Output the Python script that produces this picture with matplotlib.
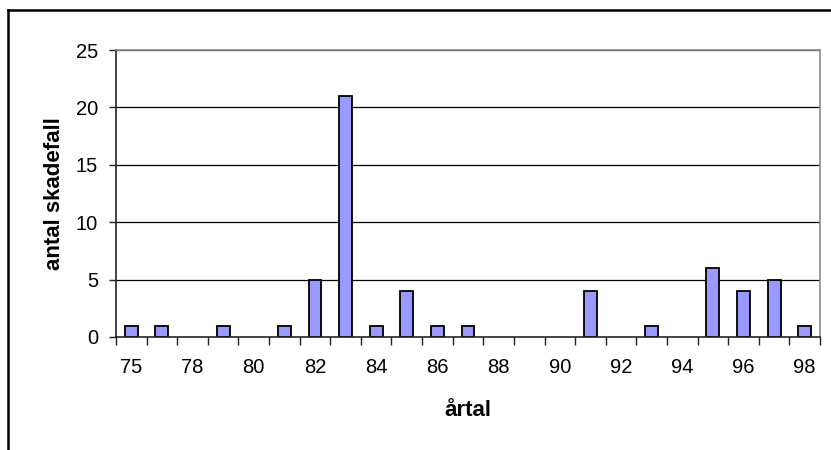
import numpy as np
import matplotlib
matplotlib.use("Agg")
import matplotlib.pyplot as plt
from matplotlib.lines import Line2D

# data (year -> number of damage cases), 76 is missing in the source
years = ['75', '77', '78', '79', '80', '81', '82', '83', '84', '85', '86', '87',
         '88', '89', '90', '91', '92', '93', '94', '95', '96', '97', '98']
cases = [1, 1, 0, 1, 0, 1, 5, 21, 1, 4, 1, 1,
         0, 0, 0, 4, 0, 1, 0, 6, 4, 5, 1]
yticks = [0, 5, 10, 15, 20, 25]

plt.rcParams['font.family'] = ['Liberation Sans', 'DejaVu Sans']

fig = plt.figure(figsize=(8.31, 4.5), dpi=100)
ax = fig.add_axes([116 / 831, 1 - 337 / 450, (820 - 116) / 831, (337 - 50) / 450])

x = np.arange(len(years))
# gridlines behind bars
for v in yticks[1:]:
    ax.axhline(v, color='black', lw=0.9, zorder=1)
# no outline for empty years
edge_w = [1.3 if v > 0 else 0 for v in cases]
ax.bar(x, cases, width=0.42, color='#9999ff', edgecolor='black', lw=edge_w, zorder=3)

ax.set_xlim(-0.5, len(years) - 0.5)
ax.set_ylim(0, 25)
ax.set_yticks(yticks)
ax.set_yticklabels([str(v) for v in yticks], fontsize=14.5)

# ticks at category boundaries, labels on every other category
ax.set_xticks(np.arange(-0.5, len(years), 1.0))
ax.set_xticklabels([])
ax.set_xticks(x[::2], minor=True)
ax.set_xticklabels(years[::2], minor=True, fontsize=14.5)
ax.tick_params(axis='x', which='major', length=6, width=1, direction='out', color='#222222')
ax.tick_params(axis='x', which='minor', length=0, pad=15)
ax.tick_params(axis='y', length=5, width=1, direction='out', pad=8, color='#222222')

for s in ['top', 'right']:
    ax.spines[s].set_color('#8c8c8c')
    ax.spines[s].set_linewidth(1.2)
for s in ['left', 'bottom']:
    ax.spines[s].set_color('#222222')
    ax.spines[s].set_linewidth(1.2)
ax.spines['bottom'].set_zorder(4)

ax.set_xlabel('årtal', fontsize=16, fontweight='bold')
ax.set_ylabel('antal skadefall', fontsize=16, fontweight='bold')
ax.xaxis.set_label_coords(0.5, -0.218)
ax.yaxis.set_label_coords(-0.073, 0.5)

# chart border (cut off on the right and bottom)
fig.add_artist(Line2D([8 / 831, 8 / 831], [0, 1 - 10 / 450], transform=fig.transFigure, color='black', lw=1.8))
fig.add_artist(Line2D([8 / 831, 1], [1 - 10 / 450, 1 - 10 / 450], transform=fig.transFigure, color='black', lw=1.8))

fig.savefig('out.png', dpi=100)
